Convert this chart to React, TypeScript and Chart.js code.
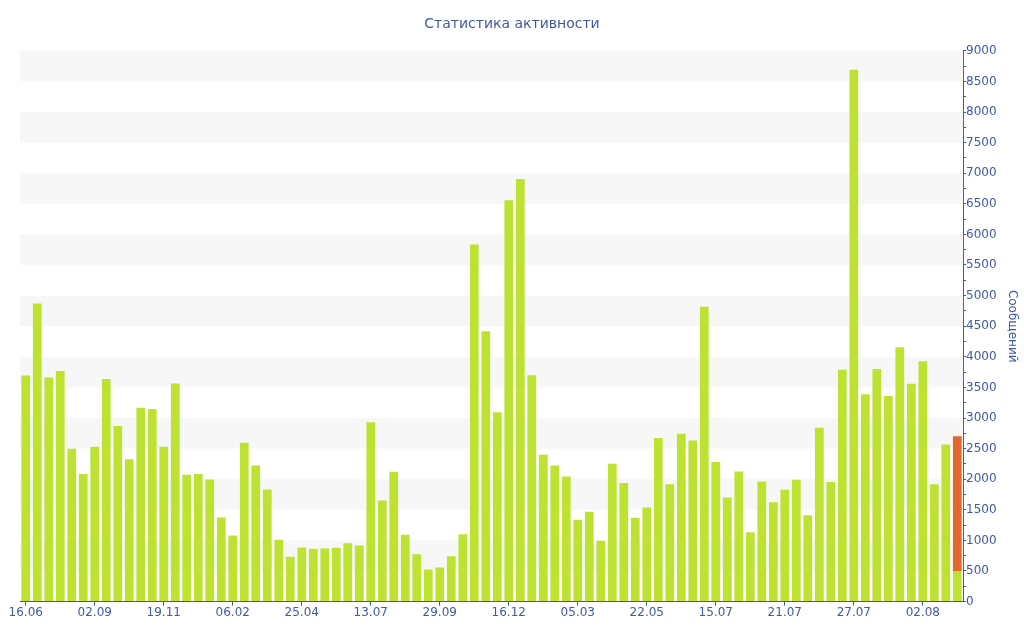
import React, { useEffect, useRef } from 'react';
import { Chart, registerables } from 'chart.js';

Chart.register(...registerables);

const tickLabels = ['16.06', '02.09', '19.11', '06.02', '25.04', '13.07', '29.09', '16.12', '05.03', '22.05', '15.07', '21.07', '27.07', '02.08'];

const messages = [
  3693, 4871, 3660, 3769, 2498, 2084, 2531, 3638, 2869, 2324, 3169, 3147, 2531, 3562,
  2073, 2084, 1996, 1375, 1080, 2596, 2225, 1833, 1009, 731, 884, 862, 867, 878,
  955, 916, 2929, 1653, 2122, 1091, 775, 524, 556, 742, 1102, 5836, 4418, 3093,
  6556, 6905, 3698, 2400, 2225, 2045, 1336, 1467, 993, 2253, 1936, 1369, 1538,
  2675, 1919, 2742, 2633, 4818, 2282, 1701, 2125, 1132, 1961, 1622, 1828, 1991,
  1410, 2839, 1955, 3789, 8692, 3390, 3801, 3359, 4158, 3559, 3928, 1919, 2566, 500
];

// the last (current) period: extra part drawn in orange on top
const currentExtra = 2200;

const labelEvery = 6;
const categories = messages.map((_, i) => (i % labelEvery === 0 ? tickLabels[i / labelEvery] : ''));
const currentValues = messages.map((_, i) => (i === messages.length - 1 ? currentExtra : null));

const blue = '#4059a3';

const bandsPlugin = {
  id: 'bands',
  beforeDatasetsDraw(chart: Chart) {
    const { ctx, chartArea } = chart;
    const y = chart.scales.y;
    ctx.save();
    ctx.fillStyle = '#f7f7f7';
    for (let v = 500; v < 9000; v += 1000) {
      const top = y.getPixelForValue(v + 500);
      const bottom = y.getPixelForValue(v);
      ctx.fillRect(chartArea.left, top, chartArea.right - chartArea.left, bottom - top);
    }
    ctx.restore();
  }
};

const App: React.FC = () => {
  const canvasRef = useRef<HTMLCanvasElement | null>(null);
  const chartRef = useRef<Chart | null>(null);

  useEffect(() => {
    document.body.style.margin = '0';
    const canvas = canvasRef.current;
    if (!canvas) return;
    if (chartRef.current) chartRef.current.destroy();

    Chart.defaults.font.family = "'DejaVu Sans', Verdana, sans-serif";
    Chart.defaults.font.size = 12;

    chartRef.current = new Chart(canvas, {
      type: 'bar',
      data: {
        labels: categories,
        datasets: [
          {
            label: 'Сообщений',
            data: messages,
            backgroundColor: '#bde232',
            barPercentage: 0.76,
            categoryPercentage: 1
          },
          {
            label: 'Сегодня',
            data: currentValues,
            backgroundColor: '#e4682e',
            barPercentage: 0.76,
            categoryPercentage: 1
          }
        ]
      },
      options: {
        responsive: false,
        maintainAspectRatio: false,
        animation: false,
        layout: { padding: { left: 3, right: 3, top: 4, bottom: 20 } },
        plugins: {
          legend: { display: false },
          tooltip: { enabled: false },
          title: {
            display: true,
            text: 'Статистика активности',
            color: blue,
            font: { size: 14, weight: 'normal' },
            padding: { top: 12, bottom: 18 }
          }
        },
        scales: {
          x: {
            stacked: true,
            afterFit: (scale: any) => {
              scale.paddingLeft = 20;
            },
            grid: {
              display: true,
              drawOnChartArea: false,
              offset: false,
              tickLength: 4,
              color: (c: any) => (c.tick && c.tick.label !== '' ? blue : 'rgba(0,0,0,0)')
            },
            border: { display: true, color: blue },
            ticks: { color: blue, autoSkip: false, maxRotation: 0, padding: 0 }
          },
          y: {
            stacked: true,
            position: 'right',
            min: 0,
            max: 9000,
            grid: { display: true, drawOnChartArea: false, tickLength: 3, color: blue },
            border: { display: true, color: blue },
            ticks: {
              color: blue,
              stepSize: 250,
              autoSkip: false,
              padding: 0,
              callback: (v: any) => (Number(v) % 500 === 0 ? String(v) : '')
            },
            title: {
              display: true,
              text: 'Сообщений',
              color: blue,
              font: { size: 12 },
              padding: { top: 2, bottom: 8 }
            }
          }
        }
      },
      plugins: [bandsPlugin]
    });

    return () => {
      if (chartRef.current) {
        chartRef.current.destroy();
        chartRef.current = null;
      }
    };
  }, []);

  return (
    <div style={{ width: '1024px', height: '640px', background: '#fff' }}>
      <canvas ref={canvasRef} width={1024} height={640} style={{ width: '1024px', height: '640px' }}></canvas>
    </div>
  );
};

export default App;
